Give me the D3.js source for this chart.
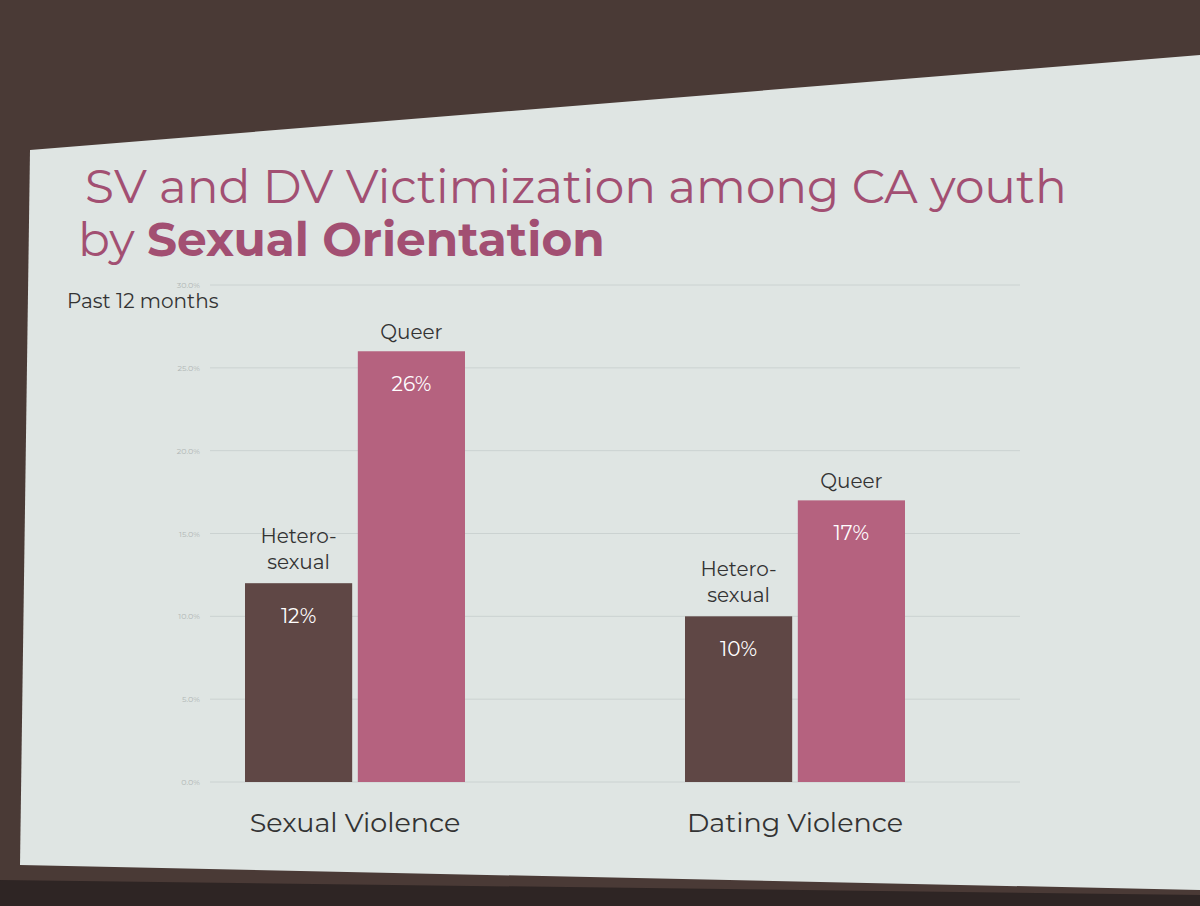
<!DOCTYPE html>
<html><head><meta charset="utf-8">
<script src="https://cdn.jsdelivr.net/npm/d3@7"></script>
<style>body{margin:0;background:#3a2e2b;}svg{display:block;font-family:Montserrat,"Open Sans",Lato,sans-serif;}</style>
</head><body><svg id="c" width="1200" height="906"></svg>
<script>
const categories = ["Sexual Violence", "Dating Violence"];
const groups = ["Hetero-sexual", "Queer"];
const heteroValues = [12, 10];
const queerValues = [26, 17];
const tickValues = [0, 5, 10, 15, 20, 25, 30];
const tickLabels = ["0.0%", "5.0%", "10.0%", "15.0%", "20.0%", "25.0%", "30.0%"];

const svg = d3.select("#c");
svg.append("rect").attr("width",1200).attr("height",906).attr("fill","#4a3a36");
svg.append("path").attr("d","M30,150 L1200,55 L1200,890 L20,865 Z").attr("fill","#dfe5e3");
svg.append("path").attr("d","M0,880 L1200,895 L1200,906 L0,906 Z").attr("fill","#2e2524");

const title = svg.append("text").attr("fill","#a24f72").attr("font-size",47);
title.append("tspan").attr("x",85).attr("y",203).text("SV and DV Victimization among CA youth");
const t2 = title.append("tspan").attr("x",78).attr("y",256);
t2.append("tspan").text("by ");
t2.append("tspan").attr("font-weight","bold").text("Sexual Orientation");

svg.append("text").attr("x",67).attr("y",308).attr("font-size",20).attr("fill","#333").text("Past 12 months");

const y = d3.scaleLinear().domain([0,30]).range([782,285]);
const x0 = d3.scaleBand().domain(categories).range([245,905]).paddingInner(0.5);
const x1 = d3.scaleBand().domain(groups).range([0,x0.bandwidth()]).paddingInner(0.05);

tickValues.forEach((v,i)=>{
  svg.append("line").attr("x1",210).attr("x2",1020).attr("y1",y(v)).attr("y2",y(v))
    .attr("stroke","#cbd2d1").attr("stroke-width",1);
  svg.append("text").attr("x",200).attr("y",y(v)+3).attr("text-anchor","end")
    .attr("font-size",8).attr("fill","#b0b6b5").text(tickLabels[i]);
});

const colors = {"Hetero-sexual":"#5f4745","Queer":"#b5627f"};
categories.forEach((c,ci)=>{
  const vals = {"Hetero-sexual":heteroValues[ci],"Queer":queerValues[ci]};
  groups.forEach(g=>{
    const bx = x0(c)+x1(g), bw = x1.bandwidth(), v = vals[g];
    svg.append("rect").attr("x",bx).attr("y",y(v)).attr("width",bw).attr("height",y(0)-y(v)).attr("fill",colors[g]);
    svg.append("text").attr("x",bx+bw/2).attr("y",y(v)+40).attr("text-anchor","middle")
      .attr("font-size",20).attr("fill","#fff").text(v+"%");
    if(g==="Queer"){
      svg.append("text").attr("x",bx+bw/2).attr("y",y(v)-12).attr("text-anchor","middle")
        .attr("font-size",20).attr("fill","#333").text("Queer");
    } else {
      svg.append("text").attr("x",bx+bw/2).attr("y",y(v)-40).attr("text-anchor","middle")
        .attr("font-size",20).attr("fill","#333").text("Hetero-");
      svg.append("text").attr("x",bx+bw/2).attr("y",y(v)-14).attr("text-anchor","middle")
        .attr("font-size",20).attr("fill","#333").text("sexual");
    }
  });
  svg.append("text").attr("x",x0(c)+x0.bandwidth()/2).attr("y",y(0)+50).attr("text-anchor","middle")
    .attr("font-size",27).attr("fill","#333").text(c);
});
</script></body></html>
